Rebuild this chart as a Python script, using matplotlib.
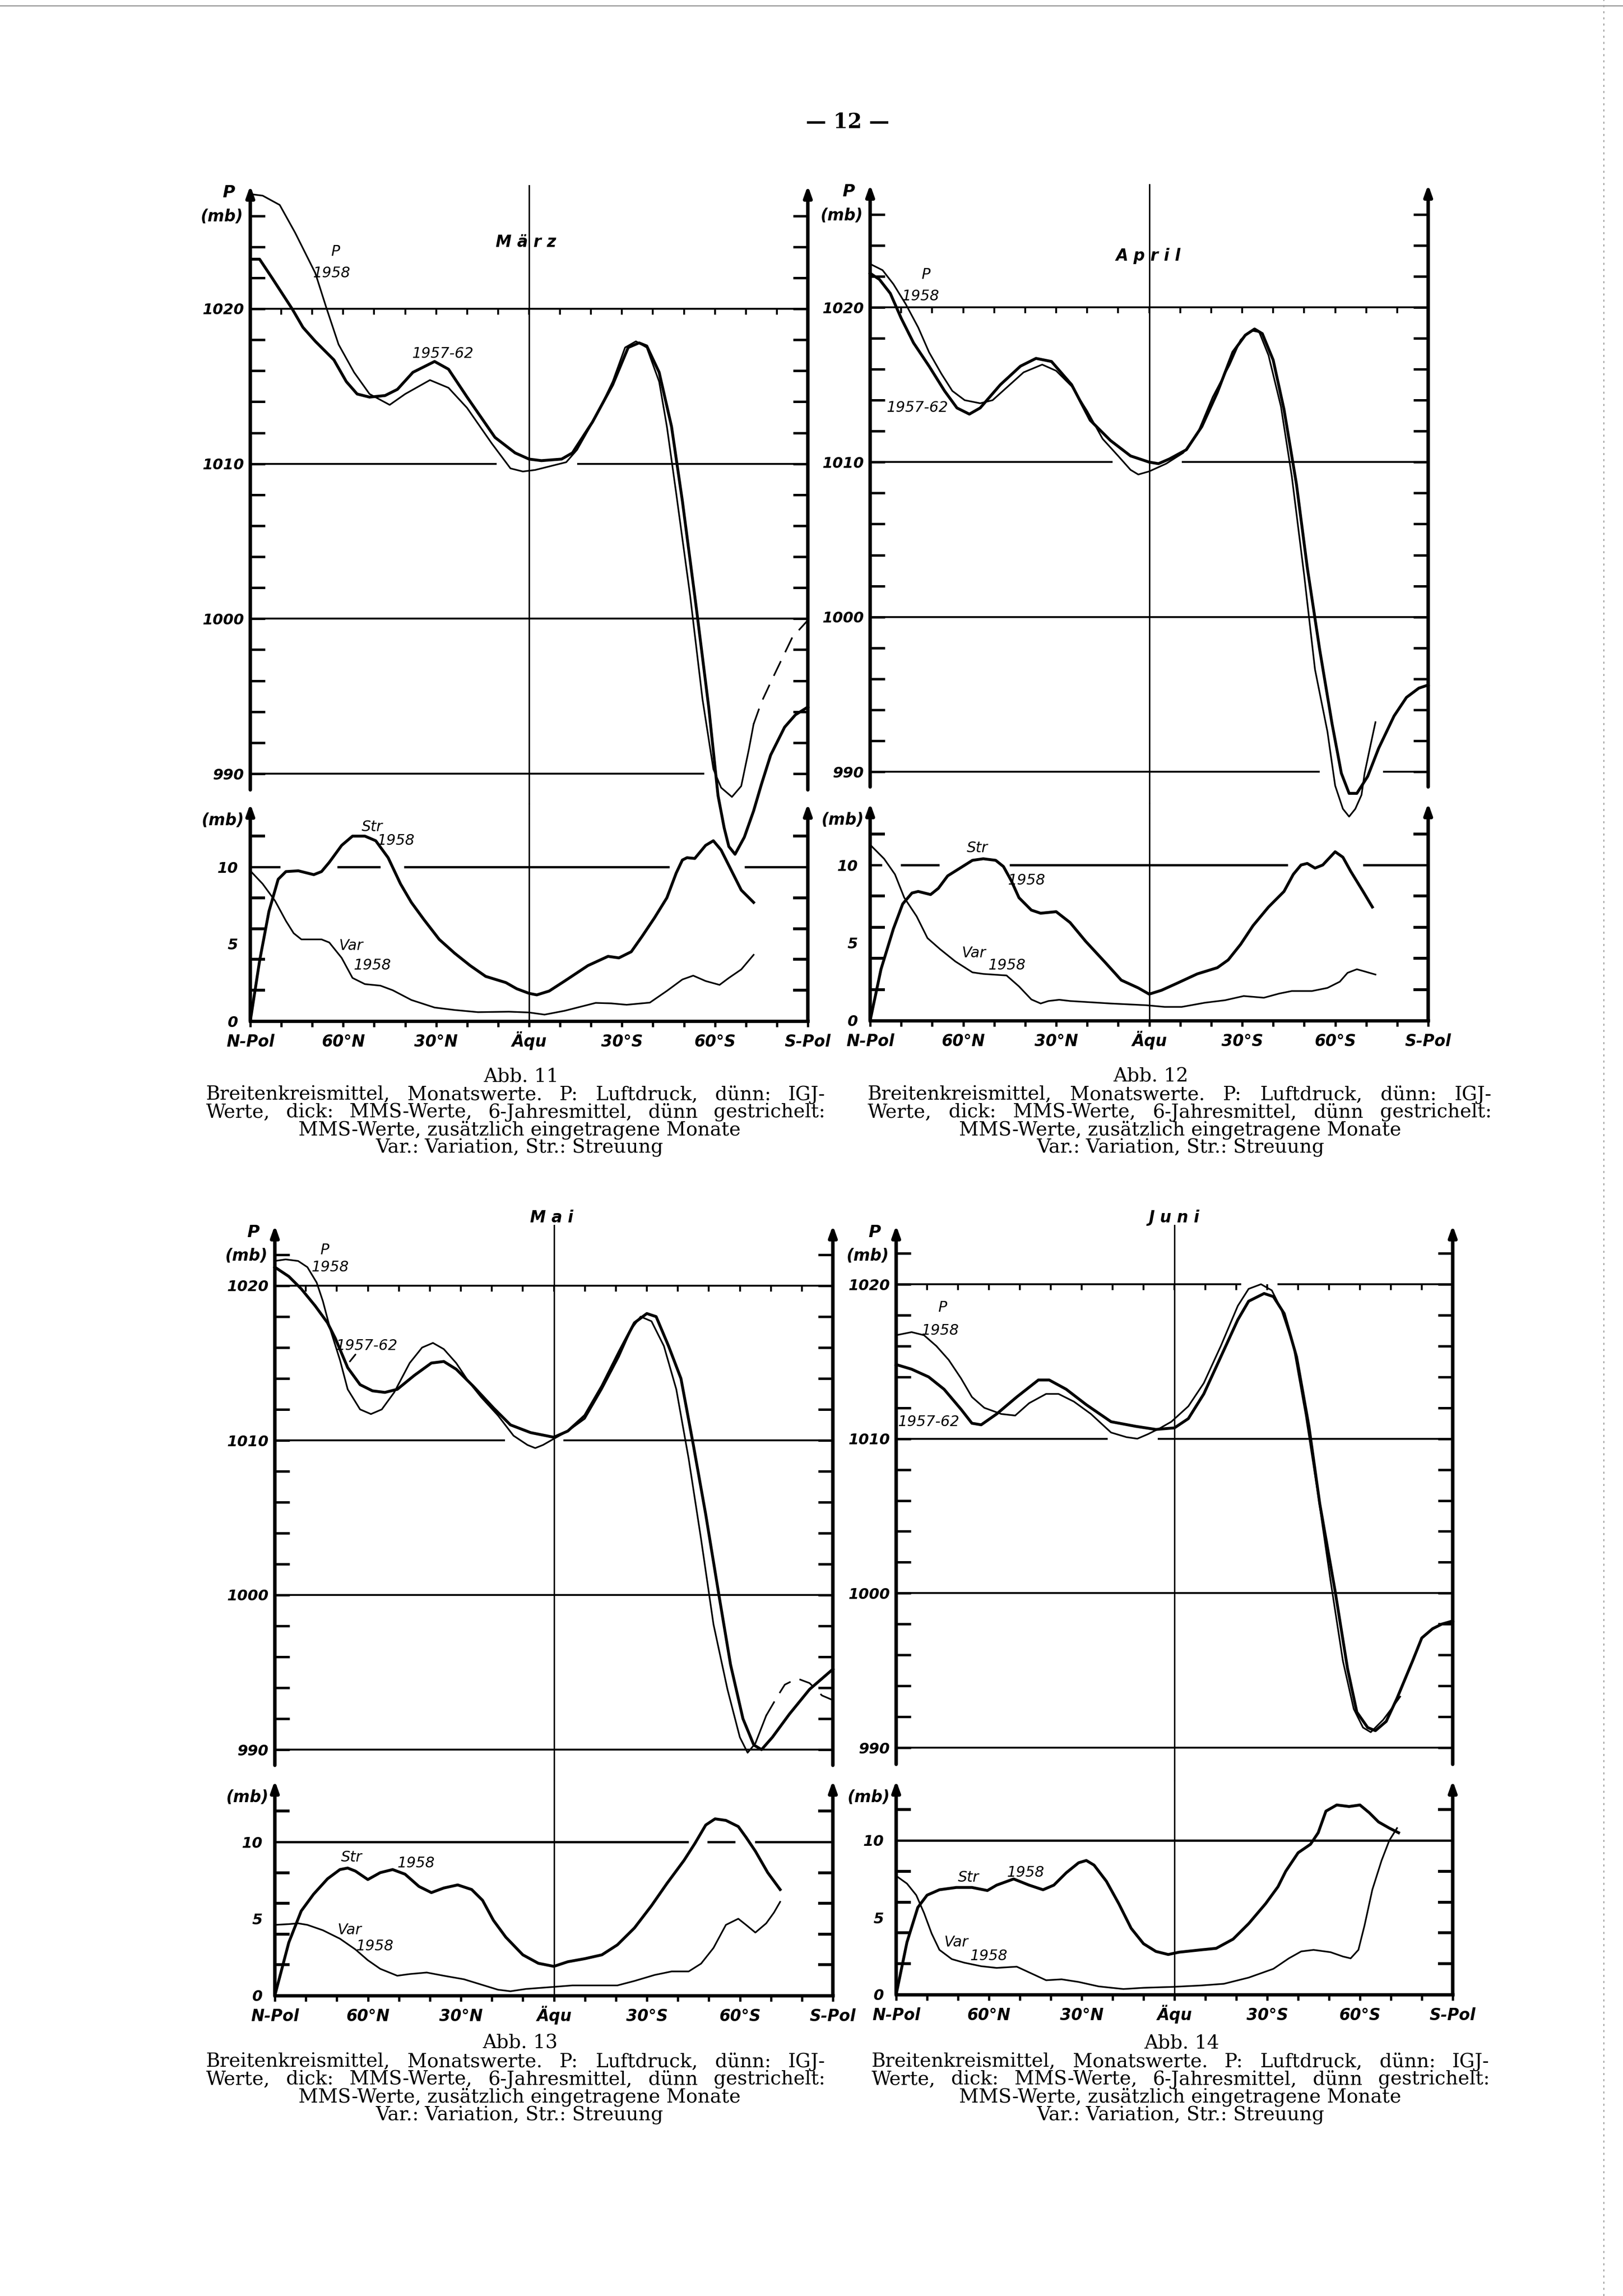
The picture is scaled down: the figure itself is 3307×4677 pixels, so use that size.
import numpy as np
import matplotlib.pyplot as plt
from matplotlib import font_manager
from matplotlib.lines import Line2D

# page size of the scanned sheet
W, H, DPI = 3307, 4677, 300
PX = 72.0 / DPI          # one pixel in points

try:
    font_manager.findfont("Liberation Sans Narrow", fallback_to_default=False)
    NARROW = True
except ValueError:
    NARROW = False
SANS = ["Liberation Sans Narrow", "DejaVu Sans"] if NARROW else ["DejaVu Sans"]
SERIF = ["DejaVu Serif"]
plt.rcParams["font.family"] = SANS
FS = 1.0 if NARROW else 0.92     # text scale for the axis lettering

LAT_POS = [90, 60, 30, 0, -30, -60, -90]
LAT_TEXT = ["N-Pol", "60°N", "30°N", "Äqu", "30°S", "60°S", "S-Pol"]

CAPTION = [
    "Breitenkreismittel, Monatswerte. P: Luftdruck, dünn: IGJ-",
    "Werte, dick: MMS-Werte, 6-Jahresmittel, dünn gestrichelt:",
    "MMS-Werte, zusätzlich eingetragene Monate",
    "Var.: Variation, Str.: Streuung",
]

# (Breite, Wert) -- Breite 90 = N-Pol, -90 = S-Pol
# ---------------- Abb. 11  Maerz ----------------
maerz_p1958 = [(90, 1027.4), (86, 1027.3), (80.5, 1026.7), (75.5, 1024.9), (69, 1022.3),
               (65.5, 1020.1), (61.5, 1017.7), (56.5, 1015.9), (51.5, 1014.5), (45, 1013.8),
               (40, 1014.5), (32, 1015.4), (26, 1014.9), (20, 1013.6), (12, 1011.3), (6, 1009.7),
               (2, 1009.5), (-2, 1009.6), (-8, 1009.9), (-12, 1010.1), (-15.5, 1010.9),
               (-22, 1013.2), (-27, 1015.3), (-31, 1017.5), (-34.5, 1017.9), (-38, 1017.5),
               (-42, 1015.3), (-44.5, 1012.4), (-47.5, 1008.1), (-52, 1001.5), (-56, 994.8),
               (-59.5, 990.3), (-62, 989.1), (-65.5, 988.5), (-68.5, 989.2), (-71, 991.6),
               (-72.5, 993.2)]
maerz_dash = [(-72.5, 993.2), (-75, 994.6), (-78.5, 996.1), (-85, 998.8), (-90, 999.9)]
maerz_p5762 = [(90, 1023.2), (87, 1023.2), (83, 1022.0), (76.5, 1020.0), (73, 1018.8),
               (69, 1017.9), (65.5, 1017.2), (63, 1016.7), (59, 1015.3), (55.5, 1014.5),
               (51.5, 1014.3), (46.5, 1014.4), (42.5, 1014.8), (37.5, 1015.9), (30.5, 1016.6),
               (26, 1016.1), (20, 1014.3), (11, 1011.7), (4.5, 1010.7), (0, 1010.3),
               (-4, 1010.2), (-10.5, 1010.3), (-14, 1010.7), (-20.5, 1012.7), (-27, 1015.1),
               (-32, 1017.5), (-35.5, 1017.8), (-38, 1017.6), (-42, 1015.9), (-46, 1012.4),
               (-49.5, 1007.6), (-54, 1000.7), (-58, 994.3), (-61, 988.6), (-63, 986.5),
               (-64.5, 985.3), (-66.5, 984.8), (-69.5, 985.9), (-72.5, 987.6), (-75, 989.3),
               (-78, 991.2), (-82.5, 993.0), (-86, 993.8), (-90, 994.3)]
maerz_str = [(90, 0), (87, 3.9), (84, 7.1), (81, 9.2), (78.5, 9.7), (74.5, 9.75), (69.5, 9.5),
             (67, 9.7), (64.5, 10.3), (60.5, 11.4), (57, 12.0), (53, 12.0), (49.5, 11.7),
             (45.5, 10.6), (41.5, 8.9), (38, 7.7), (34, 6.6), (29, 5.3), (24, 4.4), (19, 3.6),
             (14, 2.9), (7.5, 2.5), (4, 2.1), (0, 1.8), (-2.5, 1.7), (-6.5, 1.95), (-11.5, 2.6),
             (-19, 3.6), (-25.5, 4.2), (-29, 4.1), (-33, 4.5), (-36.5, 5.5), (-40.5, 6.7),
             (-44.5, 8.0), (-47.5, 9.6), (-49.5, 10.45), (-51, 10.6), (-53.5, 10.55),
             (-57, 11.4), (-59.5, 11.7), (-62, 11.1), (-64.5, 10.1), (-68.5, 8.5), (-72.5, 7.7)]
maerz_var = [(90, 9.75), (86, 8.9), (82, 7.8), (78.5, 6.5), (76, 5.7), (73.5, 5.3), (67, 5.3),
             (64.5, 5.1), (60.5, 4.1), (57, 2.8), (53, 2.4), (48, 2.3), (44, 2.0), (38, 1.37),
             (30.5, 0.88), (24, 0.72), (16.5, 0.58), (6.5, 0.61), (0, 0.56), (-5, 0.42),
             (-11.5, 0.67), (-21.5, 1.18), (-26.5, 1.15), (-31.5, 1.06), (-39, 1.2),
             (-44.5, 1.96), (-49.5, 2.7), (-53, 2.95), (-57, 2.6), (-61.5, 2.35), (-64.5, 2.8),
             (-68.5, 3.35), (-72.5, 4.3)]

# ---------------- Abb. 12  April ----------------
april_p1958 = [(90, 1022.8), (86, 1022.4), (82.5, 1021.5), (78.5, 1020.2), (74.5, 1018.7),
               (71, 1017.1), (67, 1015.7), (63.5, 1014.6), (59.5, 1014.0), (54.5, 1013.8),
               (50.5, 1014.0), (45.5, 1014.9), (40.5, 1015.8), (34.5, 1016.3), (30, 1015.9),
               (25, 1014.9), (20, 1013.3), (15, 1011.5), (10, 1010.4), (6, 1009.5),
               (3.5, 1009.2), (0, 1009.4), (-5.5, 1009.9), (-11, 1010.6), (-15.5, 1011.8),
               (-20.5, 1014.2), (-26, 1016.3), (-29.5, 1017.9), (-33, 1018.5), (-35.5, 1018.4),
               (-38.5, 1016.9), (-42.5, 1013.6), (-46, 1009.1), (-50, 1002.7), (-53.5, 996.6),
               (-57.5, 992.6), (-60, 989.1), (-62.5, 987.6), (-64.5, 987.1), (-66.5, 987.6),
               (-68.5, 988.5), (-69.5, 989.9), (-71.5, 991.8), (-73, 993.2)]
april_p5762 = [(90, 1022.2), (87, 1021.8), (83.5, 1020.9), (80, 1019.3), (76, 1017.7),
               (71, 1016.2), (66, 1014.6), (62, 1013.5), (58, 1013.1), (54.5, 1013.5),
               (48, 1015.0), (41.5, 1016.2), (36.5, 1016.7), (31.5, 1016.5), (25, 1015.0),
               (19, 1012.7), (12.5, 1011.4), (6, 1010.4), (0, 1010.0), (-3, 1009.9),
               (-6.5, 1010.2), (-12, 1010.8), (-17, 1012.3), (-22, 1014.5), (-27, 1017.1),
               (-31, 1018.2), (-34, 1018.6), (-36.5, 1018.3), (-40, 1016.6), (-43.5, 1013.4),
               (-47.5, 1008.6), (-51, 1003.2), (-55, 997.9), (-59, 993.1), (-62, 989.9),
               (-64.5, 988.6), (-67, 988.6), (-70.5, 989.7), (-74, 991.5), (-79, 993.6),
               (-83, 994.8), (-87, 995.4), (-90, 995.6)]
april_str = [(90, 0), (86.5, 3.3), (82.5, 5.9), (79.5, 7.5), (76.5, 8.2), (74.5, 8.3),
             (70.5, 8.1), (68, 8.5), (65, 9.3), (61, 9.8), (57, 10.3), (53.5, 10.4),
             (49.5, 10.3), (47, 9.9), (44.5, 9.0), (42, 7.9), (38, 7.1), (35, 6.9), (30, 7.0),
             (25.5, 6.3), (20.5, 5.1), (14, 3.7), (9, 2.6), (3.5, 2.1), (0, 1.7), (-4, 1.95),
             (-9, 2.4), (-15.5, 3.0), (-22, 3.4), (-25.5, 3.9), (-29.5, 4.9), (-33.5, 6.1),
             (-38.5, 7.3), (-43.5, 8.3), (-46.5, 9.4), (-49, 10.0), (-51, 10.1), (-53.5, 9.8),
             (-56, 10.0), (-60, 10.85), (-62.5, 10.5), (-65, 9.6), (-69, 8.3), (-72, 7.3)]
april_var = [(90, 11.3), (85.5, 10.4), (82, 9.4), (79, 7.9), (75, 6.7), (71.5, 5.3),
             (67.5, 4.6), (62.5, 3.8), (57, 3.1), (53.5, 3.0), (46, 2.9), (42, 2.2),
             (38, 1.36), (35, 1.1), (32.5, 1.26), (29, 1.34), (25.5, 1.26), (12.5, 1.1),
             (1, 0.99), (-5, 0.88), (-10.5, 0.88), (-18, 1.15), (-24.5, 1.31), (-30.5, 1.58),
             (-37, 1.47), (-42, 1.74), (-46, 1.9), (-52.5, 1.9), (-57.5, 2.1), (-61.5, 2.5),
             (-64, 3.07), (-67, 3.3), (-69.5, 3.16), (-73, 2.96)]

# ---------------- Abb. 13  Mai ----------------
mai_p1958 = [(90, 1021.6), (86.5, 1021.7), (82.5, 1021.6), (79.5, 1021.2), (76.5, 1020.2),
             (74.5, 1019.0), (72, 1017.1), (69, 1015.2), (66.5, 1013.3), (62.5, 1012.0),
             (59, 1011.7), (55.5, 1012.0), (51.5, 1013.1), (46.5, 1015.0), (42.5, 1016.0),
             (39, 1016.3), (35.5, 1015.9), (31.5, 1015.0), (27.5, 1013.8), (23.5, 1012.8),
             (18, 1011.6), (13, 1010.3), (8.5, 1009.7), (6, 1009.5), (3.5, 1009.7),
             (0, 1010.1), (-4.5, 1010.6), (-10, 1011.4), (-15.5, 1013.3), (-21, 1015.4),
             (-25, 1017.2), (-28, 1018.0), (-31.5, 1017.7), (-35.5, 1016.1), (-39.5, 1013.3),
             (-43.5, 1008.8), (-47.5, 1003.6), (-51.5, 998.1), (-56, 993.9), (-60, 990.8),
             (-62.5, 989.8), (-65, 990.4), (-68.5, 992.2)]
mai_dash = [(-68.5, 992.2), (-72, 993.4), (-74.5, 994.2), (-78.5, 994.6), (-82.5, 994.3),
            (-86.5, 993.5), (-90, 993.2)]
mai_p5762 = [(90, 1021.2), (85.5, 1020.6), (81.5, 1019.8), (77, 1018.7), (73, 1017.6),
             (70.5, 1016.6), (66.5, 1014.7), (62.5, 1013.6), (58.5, 1013.2), (54.5, 1013.1),
             (50.5, 1013.3), (45, 1014.2), (39.5, 1015.0), (35.5, 1015.1), (31.5, 1014.6),
             (26, 1013.5), (19.5, 1012.1), (14, 1011.0), (7.5, 1010.5), (0, 1010.2),
             (-4.5, 1010.6), (-10, 1011.6), (-15.5, 1013.5), (-21, 1015.7), (-26, 1017.6),
             (-30, 1018.2), (-33, 1018.0), (-37, 1016.1), (-41, 1014.0), (-45, 1009.7),
             (-49, 1005.2), (-53, 1000.3), (-57, 995.5), (-61, 992.0), (-64.5, 990.3),
             (-67, 990.0), (-70.5, 990.8), (-76, 992.3), (-82.5, 993.9), (-90, 995.2)]
mai_str = [(90, 0), (85.5, 3.45), (81.5, 5.5), (77.5, 6.6), (73, 7.6), (69, 8.2), (66.5, 8.3),
           (64, 8.1), (60, 7.55), (56, 8.0), (52, 8.2), (48, 7.9), (43.5, 7.1), (39.5, 6.7),
           (35.5, 7.0), (31, 7.2), (26.5, 6.9), (23, 6.2), (19.5, 4.9), (15.5, 3.8), (10, 2.65),
           (5, 2.1), (0, 1.9), (-4.5, 2.2), (-10, 2.4), (-15.5, 2.65), (-20.5, 3.3), (-26, 4.4),
           (-31.5, 5.85), (-36.5, 7.3), (-42, 8.8), (-45.5, 9.9), (-49, 11.1), (-52, 11.5),
           (-55.5, 11.4), (-59.5, 11.0), (-62, 10.3), (-65, 9.4), (-69, 8.0), (-73, 6.9)]
mai_var = [(90, 4.6), (85.5, 4.65), (82.5, 4.7), (79.5, 4.6), (74.5, 4.25), (69, 3.7), (64, 3.0),
           (60, 2.3), (56, 1.74), (50.5, 1.29), (46.5, 1.4), (41, 1.5), (35.5, 1.29), (29, 1.06),
           (23.5, 0.72), (18, 0.38), (14, 0.28), (9, 0.43), (1, 0.55), (-6, 0.66), (-20.5, 0.66),
           (-26, 0.95), (-32.5, 1.34), (-38, 1.57), (-43.5, 1.57), (-47.5, 2.08), (-51.5, 3.1),
           (-55.5, 4.6), (-59.5, 5.0), (-62, 4.6), (-65, 4.1), (-68.5, 4.7), (-71, 5.4),
           (-73, 6.1)]

# ---------------- Abb. 14  Juni ----------------
juni_p1958 = [(90, 1016.7), (85, 1016.9), (81, 1016.7), (77, 1016.0), (73, 1015.1), (69, 1013.9),
              (65.5, 1012.7), (61.5, 1012.0), (56, 1011.6), (51.5, 1011.5), (47, 1012.3),
              (41.5, 1012.9), (37.5, 1012.9), (32.5, 1012.4), (27, 1011.6), (20.5, 1010.4),
              (15.5, 1010.1), (12, 1010.0), (8.5, 1010.3), (4.5, 1010.7), (1, 1011.1),
              (-4.5, 1012.1), (-9.5, 1013.6), (-15, 1016.0), (-20.5, 1018.6), (-24, 1019.7),
              (-28, 1020.0), (-31.5, 1019.6), (-34.5, 1018.4), (-38.5, 1016.0), (-42.5, 1011.5),
              (-46.5, 1006.3), (-50.5, 1000.8), (-54.5, 995.6), (-58, 992.5), (-61, 991.3),
              (-63.5, 991.0), (-67.5, 991.8), (-70.5, 992.6), (-73, 993.3)]
juni_p5762 = [(90, 1014.8), (85, 1014.5), (79.5, 1014.0), (74.5, 1013.2), (69, 1011.9),
              (65.5, 1011.0), (62.5, 1010.9), (57.5, 1011.6), (51, 1012.7), (44, 1013.8),
              (40.5, 1013.8), (35, 1013.2), (28.5, 1012.2), (20.5, 1011.1), (12.5, 1010.8),
              (6, 1010.6), (0, 1010.7), (-4.5, 1011.3), (-9.5, 1012.9), (-15, 1015.3),
              (-20.5, 1017.7), (-24, 1018.9), (-29, 1019.4), (-32, 1019.2), (-35.5, 1018.1),
              (-39.5, 1015.3), (-43.5, 1010.8), (-47, 1005.8), (-52, 1000.1), (-56, 995.1),
              (-59, 992.3), (-62.5, 991.3), (-65, 991.1), (-68.5, 991.7), (-72, 993.2),
              (-77, 995.6), (-80, 997.1), (-83.5, 997.7), (-86.5, 998.0), (-90, 998.2)]
juni_str = [(90, 0), (86.5, 3.4), (83, 5.65), (80, 6.45), (76, 6.8), (70.5, 6.95), (65.5, 6.95),
            (60.5, 6.75), (57.5, 7.1), (52, 7.5), (47, 7.1), (42.5, 6.8), (39, 7.1), (35, 7.9),
            (31, 8.55), (28.5, 8.7), (26, 8.4), (22, 7.35), (18, 5.9), (14, 4.3), (10, 3.3),
            (6, 2.8), (2, 2.6), (-1.5, 2.75), (-8.5, 2.9), (-13.5, 3.0), (-19, 3.6), (-24, 4.6),
            (-29.5, 5.9), (-33.5, 7.0), (-36, 8.0), (-40, 9.2), (-44, 9.75), (-46.5, 10.5),
            (-49, 11.9), (-52.5, 12.3), (-56.5, 12.2), (-60, 12.3), (-63, 11.8), (-66, 11.2),
            (-69.5, 10.8), (-72.5, 10.5)]
juni_var = [(90, 7.7), (86.5, 7.2), (83.5, 6.45), (81, 5.3), (78.5, 3.95), (76, 2.9), (72, 2.3),
            (68, 2.07), (62.5, 1.84), (57.5, 1.73), (51, 1.81), (47, 1.44), (41.5, 0.93),
            (36.5, 0.99), (31, 0.82), (24.5, 0.53), (16.5, 0.36), (10, 0.44), (0.5, 0.5),
            (-8.5, 0.59), (-16, 0.7), (-24, 1.1), (-32, 1.67), (-37, 2.35), (-41, 2.8),
            (-45, 2.9), (-50.5, 2.75), (-54.5, 2.47), (-57, 2.35), (-59.5, 2.9), (-61.5, 4.5),
            (-64, 6.8), (-67, 8.7), (-69.5, 10.0), (-72, 10.8)]

# page layout of the four figures (pixel positions on the sheet)
panels = [
    dict(abb=11, month="M ä r z", month_at=(1.0, 1024.3),
         L=510, R=1646, y1020=629, y990=1576, ytop=378, ybot=1609,
         y10=1766, y0=2080, ylow=1637,
         p58=maerz_p1958, p5762=maerz_p5762, dash=maerz_dash, strr=maerz_str, var=maerz_var,
         gaps={1010: [(10.5, -15.5)], 990: [(-56.5, -90)]},
         gaps10=[(80.3, 62.0), (48.0, 40.4), (-45.3, -69.5)],
         lab_top=[("P", 62.6, 1023.7), ("1958", 63.8, 1022.3), ("1957-62", 27.9, 1017.1)],
         lab_low=[("Str", 50.6, 12.6), ("1958", 43.0, 11.7), ("Var", 57.5, 4.9), ("1958", 50.6, 3.6)],
         leader=None,
         cap_x=(420, 1682), cap_c=1058, abb_c=1062, cap_y=[2193, 2230, 2266, 2302, 2338]),
    dict(abb=12, month="A p r i l", month_at=(0.3, 1023.3),
         L=1773, R=2910, y1020=626, y990=1572, ytop=376, ybot=1603,
         y10=1762, y0=2079, ylow=1636,
         p58=april_p1958, p5762=april_p5762, dash=None, strr=april_str, var=april_var,
         gaps={1010: [(11.8, -10.5)], 990: [(-55.0, -75.4)]},
         gaps10=[(86.2, 80.2), (67.7, 45.1), (-44.8, -69.0)],
         lab_top=[("P", 72.0, 1022.1), ("1958", 73.7, 1020.7), ("1957-62", 74.7, 1013.5)],
         lab_low=[("Str", 55.4, 11.1), ("1958", 39.5, 9.0), ("Var", 56.6, 4.35), ("1958", 45.8, 3.55)],
         leader=None,
         cap_x=(1768, 3040), cap_c=2405, abb_c=2345, cap_y=[2193, 2230, 2266, 2302, 2338]),
    dict(abb=13, month="M a i", month_at=(0.7, 1024.4),
         L=560, R=1697, y1020=2619, y990=3564, ytop=2496, ybot=3596,
         y10=3752, y0=4065, ylow=3627,
         p58=mai_p1958, p5762=mai_p5762, dash=mai_dash, strr=mai_str, var=mai_var,
         gaps={1010: [(15.7, -3.1)]},
         gaps10=[(-43.5, -49.5), (-58.5, -64.9)],
         lab_top=[("P", 73.9, 1022.3), ("1958", 72.1, 1021.2), ("1957-62", 60.4, 1016.1)],
         lab_low=[("Str", 65.2, 9.0), ("1958", 44.4, 8.6), ("Var", 65.9, 4.25), ("1958", 57.8, 3.2)],
         leader=((65.8, 1015.1), (60.4, 1016.1)),
         cap_x=(420, 1682), cap_c=1058, abb_c=1060, cap_y=[4162, 4200, 4236, 4272, 4309]),
    dict(abb=14, month="J u n i", month_at=(0.1, 1024.3),
         L=1826, R=2960, y1020=2616, y990=3560, ytop=2496, ybot=3594,
         y10=3749, y0=4063, ylow=3627,
         p58=juni_p1958, p5762=juni_p5762, dash=None, strr=juni_str, var=juni_var,
         gaps={1020: [(-21.6, -33.4)], 1010: [(21.6, 5.4)]},
         gaps10=[],
         lab_top=[("P", 75.1, 1018.5), ("1958", 75.8, 1017.0), ("1957-62", 79.5, 1011.1)],
         lab_low=[("Str", 66.6, 7.6), ("1958", 48.2, 7.9), ("Var", 70.6, 3.4), ("1958", 60.0, 2.5)],
         leader=None,
         cap_x=(1776, 3035), cap_c=2405, abb_c=2408, cap_y=[4162, 4200, 4236, 4272, 4309]),
]

THIN, THICK, AXIS = 0.8, 1.4, 1.7


def xy(points):
    a = np.asarray(points, dtype=float)
    return a[:, 0], a[:, 1]


def px_axes(fig, x0, y0, x1, y1):
    ax = fig.add_axes([x0 / W, 1 - y1 / H, (x1 - x0) / W, (y1 - y0) / H])
    ax.patch.set_visible(False)
    return ax


def pieces(gaps):
    edges = [90.0]
    for a, b in gaps:
        edges += [a, b]
    edges.append(-90.0)
    return list(zip(edges[0::2], edges[1::2]))


def axis_arrow(ax, x, y0, y1):
    ax.annotate("", xy=(x, y1), xytext=(x, y0),
                arrowprops=dict(arrowstyle="-|>,head_length=0.45,head_width=0.16",
                                lw=AXIS, color="k", shrinkA=0, shrinkB=0, mutation_scale=10),
                annotation_clip=False)


def style_labels(labels, size, weight="bold"):
    for t in labels:
        t.set_fontstyle("italic")
        t.set_fontweight(weight)
        t.set_fontsize(size)


def draw(fig, pn):
    L, R = pn["L"], pn["R"]
    k = (pn["y990"] - pn["y1020"]) / 30.0
    p_top = 1020 + (pn["y1020"] - pn["ytop"]) / k
    p_bot = 990 - (pn["ybot"] - pn["y990"]) / k
    p_low = 1020 - (pn["ylow"] - pn["y1020"]) / k

    # ---- Luftdruck ----
    ax = px_axes(fig, L, pn["ytop"], R, pn["ybot"])
    ax.set_xlim(90, -90)
    ax.set_ylim(p_bot, p_top)
    for s in ax.spines.values():
        s.set_visible(False)
    ax.set_xticks([])
    ax.set_yticks([990, 1000, 1010, 1020])
    ax.set_yticks(np.arange(990, p_top - 0.5, 2), minor=True)
    ax.tick_params(axis="y", which="both", direction="in", length=30 * PX, width=1.2,
                   left=True, right=True, pad=3)
    style_labels(ax.get_yticklabels(), 8 * FS)
    for x in (90, -90):
        axis_arrow(ax, x, p_bot, p_top)
    for lev in (1020, 1010, 1000, 990):
        for a, b in pieces(pn["gaps"].get(lev, [])):
            ax.hlines(lev, a, b, color="k", lw=0.9)
    ax.vlines(np.arange(80, -90, -10), 1020 - 12 / k, 1020, color="k", lw=0.9)
    ax.plot([0, 0], [p_top, p_low], color="k", lw=0.7, clip_on=False)

    ax.plot(*xy(pn["p58"]), color="k", lw=THIN, clip_on=False)
    ax.plot(*xy(pn["p5762"]), color="k", lw=THICK, clip_on=False)
    if pn["dash"] is not None:
        ax.plot(*xy(pn["dash"]), color="k", lw=THIN, ls=(0, (10, 6)), clip_on=False)

    for s, x, y in pn["lab_top"]:
        ax.text(x, y, s, ha="center", va="center", style="italic", fontsize=7.2)
    if pn["leader"] is not None:
        (x0, y0), (x1, y1) = pn["leader"]
        ax.annotate("", xy=(x0, y0), xytext=(x0 - 1.8, y0 + 0.45),
                    arrowprops=dict(arrowstyle="-", lw=THIN, color="k", shrinkA=0, shrinkB=0))
    mx, my = pn["month_at"]
    ax.text(mx, my, pn["month"], ha="center", va="center", style="italic",
            weight="bold", fontsize=8.5 * FS)
    ax.annotate("P", xy=(90, p_top - 0.45), xytext=(-10.5, 0), textcoords="offset points",
                ha="center", va="center", style="italic", weight="bold", fontsize=9 * FS,
                annotation_clip=False)
    ax.annotate("(mb)", xy=(90, p_top - 2.0), xytext=(-3.5, 0), textcoords="offset points",
                ha="right", va="center", style="italic", weight="bold", fontsize=8.5 * FS,
                annotation_clip=False)

    # ---- Variation / Streuung ----
    kl = (pn["y0"] - pn["y10"]) / 10.0
    v_top = (pn["y0"] - pn["ylow"]) / kl
    bx = px_axes(fig, L, pn["ylow"], R, pn["y0"])
    bx.set_xlim(90, -90)
    bx.set_ylim(0, v_top)
    for side in ("left", "right", "top"):
        bx.spines[side].set_visible(False)
    bx.spines["bottom"].set_linewidth(1.6)
    bx.set_xticks(LAT_POS, labels=LAT_TEXT)
    bx.set_xticks(np.arange(80, -90, -10), minor=True)
    # baseline alignment keeps "Äqu" on the same line as the other names
    bx.tick_params(axis="x", which="both", direction="out", length=12 * PX, width=1.1, pad=9.6)
    style_labels(bx.get_xticklabels(), 8.5 * FS)
    for t in bx.get_xticklabels():
        t.set_verticalalignment("baseline")
    bx.set_yticks([0, 5, 10], labels=["0", "5", "10"])
    bx.set_yticks(np.arange(2, v_top - 0.5, 2), minor=True)
    bx.tick_params(axis="y", which="major", length=0, pad=6)
    bx.tick_params(axis="y", which="minor", direction="in", length=30 * PX, width=1.4,
                   left=True, right=True)
    style_labels(bx.get_yticklabels(), 8 * FS)
    for x in (90, -90):
        axis_arrow(bx, x, 0, v_top)
    for a, b in pieces(pn["gaps10"]):
        bx.hlines(10, a, b, color="k", lw=1.1)
    bx.plot([0, 0], [0, v_top], color="k", lw=0.7, clip_on=False)

    bx.plot(*xy(pn["strr"]), color="k", lw=THICK, clip_on=False)
    bx.plot(*xy(pn["var"]), color="k", lw=THIN, clip_on=False)
    for s, x, y in pn["lab_low"]:
        bx.text(x, y, s, ha="center", va="center", style="italic", fontsize=7.2)
    bx.annotate("(mb)", xy=(90, v_top - 1.1), xytext=(-3, 0), textcoords="offset points",
                ha="right", va="center", style="italic", weight="bold", fontsize=8.5 * FS,
                annotation_clip=False)


def justified(fig, text, x0, x1, y, size):
    r = fig.canvas.get_renderer()
    words = text.split()
    objs = [fig.text(0, 1 - y / H, w, fontsize=size, family=SERIF, va="center") for w in words]
    widths = [t.get_window_extent(r).width for t in objs]
    gap = (x1 - x0 - sum(widths)) / (len(words) - 1)
    x = x0
    for t, w in zip(objs, widths):
        t.set_x(x / W)
        x += w + gap


def caption(fig, pn, size):
    ys = pn["cap_y"]
    fig.text(pn["abb_c"] / W, 1 - ys[0] / H, "Abb. %d" % pn["abb"], ha="center", va="center",
             family=SERIF, fontsize=size)
    x0, x1 = pn["cap_x"]
    justified(fig, CAPTION[0], x0, x1, ys[1], size)
    justified(fig, CAPTION[1], x0, x1, ys[2], size)
    for line, y in zip(CAPTION[2:], ys[3:]):
        fig.text(pn["cap_c"] / W, 1 - y / H, line, ha="center", va="center",
                 family=SERIF, fontsize=size)


fig = plt.figure(figsize=(W / DPI, H / DPI), dpi=DPI)
fig.patch.set_facecolor("white")

for pn in panels:
    draw(fig, pn)

# caption size chosen so the centred third line is as wide as in the print
r = fig.canvas.get_renderer()
probe = fig.text(0, 0, CAPTION[2], fontsize=10, family=SERIF)
cap_size = 10 * 898 / probe.get_window_extent(r).width
probe.remove()
for pn in panels:
    caption(fig, pn, cap_size)

fig.text(1727 / W, 1 - 249 / H, "— 12 —", ha="center", va="center", family=SERIF,
         weight="bold", fontsize=10)

# traces of the scanner frame
fig.add_artist(Line2D([0, 1], [1 - 12 / H, 1 - 12 / H], transform=fig.transFigure,
                      color="0.55", lw=0.5))
fig.add_artist(Line2D([3268 / W, 3268 / W], [0, 1], transform=fig.transFigure,
                      color="0.6", lw=0.5, ls=(0, (2, 4))))

fig.savefig("out.png", dpi=DPI, facecolor="white")
